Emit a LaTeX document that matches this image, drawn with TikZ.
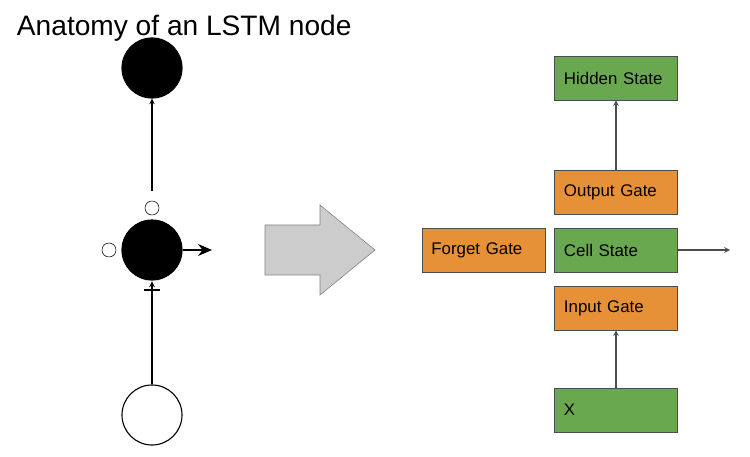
\documentclass[tikz,border=0pt]{standalone}
\usepackage{fontspec}
\setmainfont{Liberation Sans}
\usetikzlibrary{shapes,arrows,arrows.meta,positioning,calc}
\definecolor{boxgreen}{RGB}{106,168,79}
\definecolor{boxorange}{RGB}{230,145,56}
\definecolor{arrowgray}{RGB}{204,204,204}

\begin{document}
\begin{tikzpicture}[x=0.025cm, y=-0.025cm,
    box/.style={rectangle, draw=black!70, minimum width=3.075cm, minimum height=1.1cm, text width=2.6cm, align=left, inner sep=0pt, font=\fontsize{12}{14}\selectfont},
    unit/.style={circle, draw, thick, minimum size=1.5cm, inner sep=0pt},
    dot/.style={circle, draw, minimum size=0.35cm, inner sep=0pt},
    arrow/.style={->, >=stealth, thick}
]
    \useasboundingbox (0,0) rectangle (750,457);
    \node[anchor=west, font=\fontsize{20}{24}\selectfont] (title) at (12,28) {Anatomy of an LSTM node};

    % left side
    \node[unit, fill=black] (top) at (152,68) {};
    \node[dot] (gout) at (152,208) {};
    \node[unit, fill=black] (cell) at (152,250) {};
    \node[dot] (gforget) at (109,250) {};
    \coordinate (cellout) at (212,250);
    \node[minimum width=0.4cm, minimum height=0.06cm, inner sep=0pt, fill=black] (gin) at (152,290) {};
    \node[unit] (input) at (152,415) {};
    \draw[arrow] ($(gout.north)+(0,-10)$) -- (top.south);
    \draw[-{Stealth[length=0.35cm,width=0.3cm]}, thick] (cell.east) -- (cellout);
    \draw[arrow] (input.north) -- ($(gin.south)+(0,-10)$);

    % big arrow
    \draw[draw=black!50, fill=arrowgray] (265,225) -- (320,225) -- (320,205) -- (375,250)
        -- (320,295) -- (320,275) -- (265,275) -- cycle;

    % right side
    \node[box, fill=boxgreen] (hidden) at (616,78) {Hidden State};
    \node[box, fill=boxorange] (output) at (616,192) {Output Gate};
    \node[box, fill=boxgreen] (state) at (616,250) {Cell State};
    \node[box, fill=boxorange, left=0.225cm of state] (forget) {Forget Gate};
    \node[box, fill=boxorange] (inputgate) at (616,308) {Input Gate};
    \node[box, fill=boxgreen] (x) at (616,410) {X};
    \coordinate (stateout) at (730,250);

    \draw[arrow, black!70] (output) -- (hidden);
    \draw[arrow, black!70] (x) -- (inputgate);
    \draw[arrow, black!70] (state) -- (stateout);
\end{tikzpicture}
\end{document}
